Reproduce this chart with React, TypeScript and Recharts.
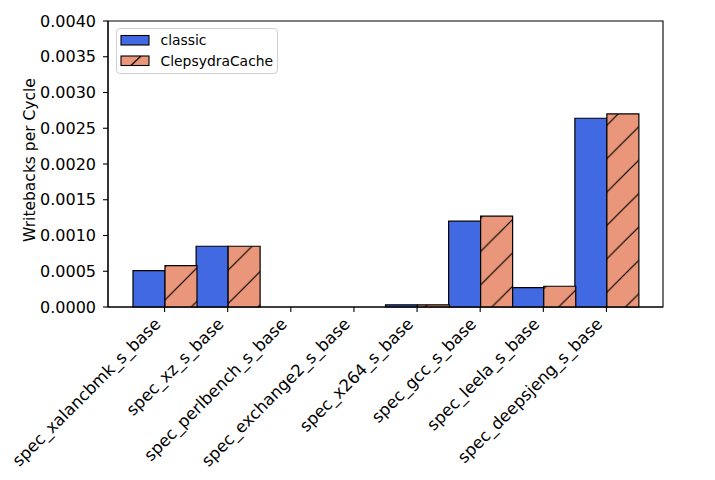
import React from 'react';
import { BarChart, Bar, XAxis, YAxis, ReferenceArea } from 'recharts';

const benchmarks = [
  'spec_xalancbmk_s_base',
  'spec_xz_s_base',
  'spec_perlbench_s_base',
  'spec_exchange2_s_base',
  'spec_x264_s_base',
  'spec_gcc_s_base',
  'spec_leela_s_base',
  'spec_deepsjeng_s_base',
];

const classicValues = [0.00051, 0.00085, 0, 0, 0.00003, 0.0012, 0.00027, 0.00264];
const clepsydraValues = [0.00058, 0.00085, 0, 0, 0.00003, 0.00127, 0.00029, 0.0027];

const yTicks = [0, 0.0005, 0.001, 0.0015, 0.002, 0.0025, 0.003, 0.0035, 0.004];

const FONT = '"DejaVu Sans", sans-serif';
const BLUE = '#4169E1';
const SALMON = '#E9967A';

const data = benchmarks.map((name, i) => ({
  name,
  classic: classicValues[i],
  clepsydra: clepsydraValues[i],
}));

function RotatedTick(props: any) {
  const { x, y, payload } = props;
  const tx = x - 3;
  const ty = y + 11;
  return (
    <text
      x={tx}
      y={ty}
      textAnchor="end"
      fontFamily={FONT}
      fontSize={16.5}
      fill="#000"
      transform={`rotate(-45, ${tx}, ${ty})`}
    >
      {payload.value}
    </text>
  );
}

function LegendBox() {
  return (
    <div
      style={{
        position: 'absolute',
        left: 115.5,
        top: 27.5,
        width: 162,
        height: 46,
        border: '1px solid #d0d0d0',
        borderRadius: 4,
        background: 'rgba(255,255,255,0.8)',
        boxSizing: 'border-box',
        fontFamily: FONT,
        fontSize: 13.9,
      }}
    >
      <svg width={162} height={46} style={{ position: 'absolute', left: -1, top: -1 }}>
        <rect x={5} y={7.5} width={28} height={9.5} fill={BLUE} stroke="#000" strokeWidth={1.1} />
        <rect x={5} y={28} width={28} height={9.5} fill={SALMON} stroke="#000" strokeWidth={1.1} />
        <line x1={15} y1={37.5} x2={25} y2={28} stroke="#000" strokeWidth={1.1} />
        <text x={44.5} y={17} fontFamily={FONT} fontSize={13.9} fill="#000">classic</text>
        <text x={44.5} y={37.5} fontFamily={FONT} fontSize={13.9} fill="#000">ClepsydraCache</text>
      </svg>
    </div>
  );
}

export default function App() {
  return (
    <div style={{ position: 'relative', width: 715, height: 480, background: '#fff' }}>
      <style>{'body{margin:0}'}</style>
      <BarChart
        width={715}
        height={480}
        data={data}
        margin={{ top: 21, right: 52, bottom: 0, left: 0 }}
        barCategoryGap={0}
        barGap={0}
      >
        <defs>
          <pattern
            id="hatch"
            patternUnits="userSpaceOnUse"
            width={33.4}
            height={33.4}
            patternTransform="translate(30.7, 0)"
          >
            <rect x={0} y={0} width={33.4} height={33.4} fill={SALMON} />
            <path
              d="M0,33.4 L33.4,0 M-4,4 L4,-4 M29.4,37.4 L37.4,29.4"
              stroke="#000"
              strokeWidth={1.2}
            />
          </pattern>
        </defs>
        <XAxis
          dataKey="name"
          interval={0}
          height={173}
          padding={{ left: 25, right: 25 }}
          tick={<RotatedTick />}
          tickSize={5}
          tickLine={{ stroke: '#000', strokeWidth: 1.1 }}
          axisLine={{ stroke: '#000', strokeWidth: 1.1 }}
        />
        <XAxis xAxisId="frame" dataKey="name" hide padding={{ left: 0, right: 0 }} />
        <YAxis
          domain={[0, 0.004]}
          ticks={yTicks}
          interval={0}
          width={108}
          tickSize={5}
          tickMargin={7}
          tickFormatter={(v: number) => v.toFixed(4)}
          tick={{ fill: '#000', fontSize: 16, fontFamily: FONT }}
          tickLine={{ stroke: '#000', strokeWidth: 1.1 }}
          axisLine={{ stroke: '#000', strokeWidth: 1.1 }}
        />
        <Bar
          dataKey="classic"
          fill={BLUE}
          stroke="#000"
          strokeWidth={1.2}
          isAnimationActive={false}
        />
        <Bar
          dataKey="clepsydra"
          fill="url(#hatch)"
          stroke="#000"
          strokeWidth={1.2}
          isAnimationActive={false}
        />
        <ReferenceArea
          xAxisId="frame"
          x1={benchmarks[0]}
          x2={benchmarks[benchmarks.length - 1]}
          y1={0}
          y2={0.004}
          fill="none"
          fillOpacity={0}
          stroke="#000"
          strokeWidth={1.1}
          ifOverflow="visible"
        />
      </BarChart>
      <svg
        width={60}
        height={480}
        style={{ position: 'absolute', left: 0, top: 0, pointerEvents: 'none' }}
      >
        <text
          x={34.5}
          y={160}
          textAnchor="middle"
          fontFamily={FONT}
          fontSize={15.5}
          fill="#000"
          transform="rotate(-90, 34.5, 160)"
        >
          Writebacks per Cycle
        </text>
      </svg>
      <LegendBox />
    </div>
  );
}
